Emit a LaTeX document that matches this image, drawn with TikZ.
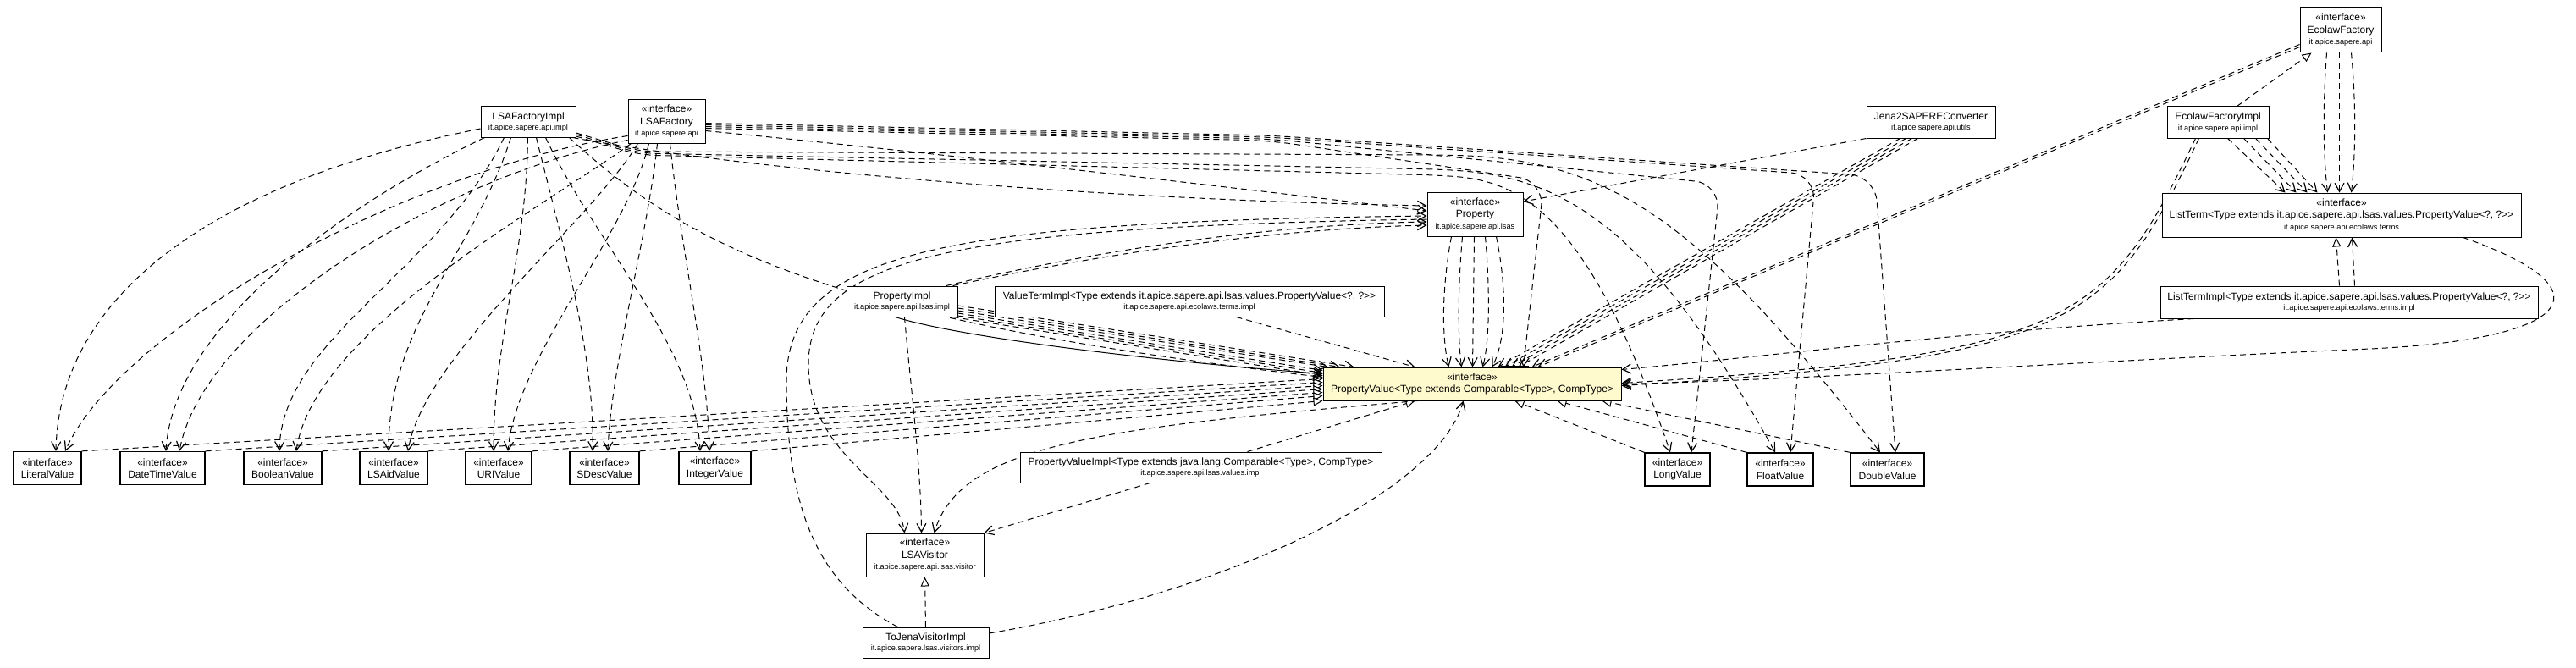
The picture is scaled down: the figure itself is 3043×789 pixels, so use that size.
\documentclass[tikz,border=0pt]{standalone}
\usepackage{fontspec}
\setmainfont{Liberation Sans}
\usetikzlibrary{arrows.meta,calc}
\pgfdeclarelayer{bgzero}
\pgfdeclarelayer{edges}
\pgfsetlayers{bgzero,edges,main}
\definecolor{pvfill}{RGB}{255,250,205}
\newcommand{\pkgname}[1]{{\fontsize{9.2}{11}\selectfont #1}}
\newcommand{\ster}{«interface»}
\begin{document}
\begin{tikzpicture}[x=1pt,y=-1pt,
  cls/.style={draw=black, line width=1pt, fill=white, align=center, inner sep=0pt, font=\fontsize{12}{14.5}\selectfont},
  vcls/.style={cls, line width=1.3pt, minimum height=39},
  dep/.style={line width=1pt, dash pattern=on 7pt off 5pt, -{Straight Barb[length=10pt,width=11pt,line width=1.2pt]}},
  real/.style={line width=1pt, dash pattern=on 7pt off 5pt, -{Triangle[fill=white,length=11pt,width=10pt,line width=1pt]}},
  assoc/.style={line width=1pt, -{Straight Barb[length=10pt,width=11pt,line width=1.2pt]}}]
\useasboundingbox (0,0) rectangle (3043,789);
\begin{pgfonlayer}{bgzero}
\fill[white] (0,0) rectangle (3043,789);
\end{pgfonlayer}

% ---- nodes
\node[cls, minimum width=112, minimum height=36] (lsafi) at (624,144) {LSAFactoryImpl\\[-2pt]\pkgname{it.apice.sapere.api.impl}};
\node[cls, minimum width=91, minimum height=51] (lsaf) at (787.5,143.5) {\ster\\LSAFactory\\[-1pt]\pkgname{it.apice.sapere.api}};
\node[vcls, minimum width=80] (vlit) at (56,553) {\ster\\LiteralValue};
\node[vcls, minimum width=100] (vdt) at (192,553) {\ster\\DateTimeValue};
\node[vcls, minimum width=92] (vbool) at (334,553) {\ster\\BooleanValue};
\node[vcls, minimum width=80] (vaid) at (465,553) {\ster\\LSAidValue};
\node[vcls, minimum width=78] (vuri) at (589,553) {\ster\\URIValue};
\node[vcls, minimum width=82] (vsd) at (714,553) {\ster\\SDescValue};
\node[vcls, minimum width=85] (vint) at (844.5,553) {\ster\\IntegerValue};
\node[vcls, minimum width=77] (vlong) at (1981.5,554.5) {\ster\\LongValue};
\node[vcls, minimum width=78] (vfloat) at (2103,554.5) {\ster\\FloatValue};
\node[vcls, minimum width=87] (vdouble) at (2229.5,554.5) {\ster\\DoubleValue};
\node[cls, minimum width=113, minimum height=52] (prop) at (1742.5,253) {\ster\\Property\\[-1pt]\pkgname{it.apice.sapere.api.lsas}};
\node[cls, minimum width=131, minimum height=36] (propi) at (1065.5,356) {PropertyImpl\\[-2pt]\pkgname{it.apice.sapere.api.lsas.impl}};
\node[cls, minimum width=460, minimum height=36] (vti) at (1405,356) {ValueTermImpl<Type extends it.apice.sapere.api.lsas.values.PropertyValue<?, ?>\kern0pt>\\[-2pt]\pkgname{it.apice.sapere.api.ecolaws.terms.impl}};
\node[cls, fill=pvfill, minimum width=352, minimum height=39] (pv) at (1739,453.5) {\ster\\PropertyValue<Type extends Comparable<Type>, CompType>};
\node[cls, minimum width=427, minimum height=36] (pvi) at (1418.5,552) {PropertyValueImpl<Type extends java.lang.Comparable<Type>, CompType>\\[-2pt]\pkgname{it.apice.sapere.api.lsas.values.impl}};
\node[cls, minimum width=139, minimum height=51] (vis) at (1092.5,655.5) {\ster\\LSAVisitor\\[-1pt]\pkgname{it.apice.sapere.api.lsas.visitor}};
\node[cls, minimum width=149, minimum height=36] (tjv) at (1093.5,759) {ToJenaVisitorImpl\\[-2pt]\pkgname{it.apice.sapere.lsas.visitors.impl}};
\node[cls, minimum width=96, minimum height=53] (ef) at (2765,35.5) {\ster\\EcolawFactory\\[-1pt]\pkgname{it.apice.sapere.api}};
\node[cls, minimum width=152, minimum height=37] (jena) at (2281,144.5) {Jena2SAPEREConverter\\[-2pt]\pkgname{it.apice.sapere.api.utils}};
\node[cls, minimum width=120, minimum height=37] (efi) at (2620,144.5) {EcolawFactoryImpl\\[-2pt]\pkgname{it.apice.sapere.api.impl}};
\node[cls, minimum width=424, minimum height=52] (lt) at (2766,254) {\ster\\ListTerm<Type extends it.apice.sapere.api.lsas.values.PropertyValue<?, ?>\kern0pt>\\[-1pt]\pkgname{it.apice.sapere.api.ecolaws.terms}};
\node[cls, minimum width=446, minimum height=38] (lti) at (2775,357) {ListTermImpl<Type extends it.apice.sapere.api.lsas.values.PropertyValue<?, ?>\kern0pt>\\[-2pt]\pkgname{it.apice.sapere.api.ecolaws.terms.impl}};

\begin{pgfonlayer}{edges}
% LSAFactoryImpl -> value types
\draw[dep] ($(lsafi.west)+(0,8)$) .. controls (250,215) and (70,350) .. ($(vlit.north)+(10,0)$);
\draw[dep] ($(lsafi.south west)+(5,0)$) .. controls (420,235) and (205,380) .. ($(vdt.north)+(4,0)$);
\draw[dep] ($(lsafi.south west)+(28,0)$) .. controls (520,320) and (332,400) .. ($(vbool.north)+(-4,0)$);
\draw[dep] ($(lsafi.south west)+(36,0)$) .. controls (560,300) and (459,380) .. ($(vaid.north)+(-6,0)$);
\draw[dep] ($(lsafi.south west)+(56,0)$) .. controls (622,300) and (583,400) .. ($(vuri.north)+(-6,0)$);
\draw[dep] ($(lsafi.south west)+(66,0)$) .. controls (665,290) and (703,420) .. ($(vsd.north)+(-14,0)$);
\draw[dep] ($(lsafi.south west)+(77,0)$) .. controls (705,290) and (822,410) .. ($(vint.north)+(-17.5,0)$);
% LSAFactory -> value types
\draw[dep] ($(lsaf.west)+(0,17)$) .. controls (480,200) and (140,390) .. ($(vlit.north)+(21,0)$);
\draw[dep] ($(lsaf.south west)+(0,-4)$) .. controls (520,210) and (240,380) .. ($(vdt.north)+(20,0)$);
\draw[dep] ($(lsaf.south west)+(4,0)$) .. controls (650,240) and (370,390) .. ($(vbool.north)+(16,0)$);
\draw[dep] ($(lsaf.south west)+(12,0)$) .. controls (700,260) and (500,420) .. ($(vaid.north)+(17,0)$);
\draw[dep] ($(lsaf.south west)+(25,0)$) .. controls (740,280) and (610,420) .. ($(vuri.north)+(11,0)$);
\draw[dep] ($(lsaf.south west)+(35,0)$) .. controls (765,280) and (722,430) .. ($(vsd.north)+(4,0)$);
\draw[dep] ($(lsaf.south west)+(50,0)$) .. controls (805,300) and (836,430) .. ($(vint.north)+(-6.5,0)$);
% value types -> PropertyValue
\draw[real] (vlit.north east) -- ($(pv.west)+(0,-6)$);
\draw[real] (vdt.north east) -- ($(pv.west)+(0,-2)$);
\draw[real] (vbool.north east) -- ($(pv.west)+(0,2)$);
\draw[real] (vaid.north east) -- ($(pv.west)+(0,6)$);
\draw[real] (vuri.north east) -- ($(pv.west)+(0,10)$);
\draw[real] (vsd.north east) -- ($(pv.west)+(0,14)$);
\draw[real] (vint.north east) -- (pv.south west);
\draw[real] (vlong.north west) -- ($(pv.south west)+(227,0)$);
\draw[real] (vfloat.north west) -- ($(pv.south west)+(277,0)$);
\draw[real] (vdouble.north west) -- ($(pv.south west)+(330,0)$);
\draw[real] ($(pvi.north west)+(269,0)$) -- ($(pv.south west)+(109,0)$);
% visitor
\draw[dep] ($(pvi.south west)+(154,0)$) -- (vis.north east);
\draw[real] (tjv.north) -- (vis.south);
\draw[dep] ($(tjv.east)+(0,-11)$) .. controls (1450,700) and (1700,580) .. ($(pv.south west)+(166,0)$);
\draw[dep] ($(tjv.north west)+(42,0)$) .. controls (965,690) and (929,600) .. (929,450) .. controls (929,295) and (1120,262) .. ($(prop.west)+(0,2)$);
\draw[dep] ($(prop.west)+(0,6)$) .. controls (1120,268) and (955,305) .. (955,430) .. controls (955,540) and (1062,570) .. ($(vis.north west)+(46,0)$);
\draw[dep] ($(propi.south west)+(69,0)$) .. controls (1075,450) and (1088,550) .. ($(vis.north west)+(66,0)$);
\draw[dep] ($(pv.south west)+(112,0)$) .. controls (1300,505) and (1135,525) .. ($(vis.north west)+(81,0)$);
% PropertyImpl
\draw[dep] ($(propi.north east)+(-14,0)$) .. controls (1300,295) and (1500,265) .. ($(prop.west)+(0,9)$);
\draw[dep] ($(propi.north east)+(-6,0)$) .. controls (1310,298) and (1510,270) .. ($(prop.west)+(0,13)$);
\draw[dep] ($(propi.east)+(0,5)$) -- ($(pv.north west)+(37,0)$);
\draw[dep] ($(propi.east)+(0,8)$) -- ($(pv.north west)+(20,0)$);
\draw[dep] ($(propi.east)+(0,11)$) -- ($(pv.north west)+(6,0)$);
\draw[dep] ($(propi.east)+(0,14)$) -- ($(pv.west)+(0,-16)$);
\draw[dep] ($(propi.east)+(0,17)$) -- ($(pv.west)+(0,-13)$);
\draw[dep] ($(propi.south east)+(-6,0)$) -- ($(pv.west)+(0,-10)$);
\draw[assoc] ($(propi.south west)+(58,0)$) .. controls (1140,400) and (1380,428) .. ($(pv.west)+(0,-12)$);
\draw[dep] ($(lsafi.south east)+(-8,0)$) .. controls (820,300) and (1000,380) .. ($(pv.west)+(0,-8)$);
\draw[dep] ($(vti.south west)+(286,0)$) -- ($(pv.north west)+(109,0)$);
% Property -> PropertyValue
\draw[dep] ($(prop.south west)+(29,0)$) .. controls (1703,340) and (1703,400) .. ($(pv.north west)+(149,0)$);
\draw[dep] ($(prop.south west)+(42,0)$) .. controls (1722,340) and (1722,400) .. ($(pv.north west)+(164,0)$);
\draw[dep] ($(prop.south west)+(56,0)$) -- ($(pv.north west)+(177,0)$);
\draw[dep] ($(prop.south west)+(69,0)$) .. controls (1760,340) and (1760,400) .. ($(pv.north west)+(189,0)$);
\draw[dep] ($(prop.south west)+(82,0)$) .. controls (1780,340) and (1780,400) .. ($(pv.north west)+(200,0)$);
% Ecolaw part
\draw[dep] ($(ef.west)+(0,17)$) -- ($(pv.north west)+(247,0)$);
\draw[dep] ($(ef.west)+(0,20)$) -- ($(pv.north west)+(254,0)$);
\draw[real] ($(efi.north west)+(83,0)$) -- ($(ef.south west)+(14,0)$);
\draw[dep] ($(efi.south west)+(72,0)$) -- ($(lt.north west)+(146,0)$);
\draw[dep] ($(efi.south west)+(91,0)$) -- ($(lt.north west)+(159,0)$);
\draw[dep] ($(efi.south west)+(105,0)$) -- ($(lt.north west)+(172,0)$);
\draw[dep] ($(efi.south west)+(119,0)$) -- ($(lt.north west)+(184,0)$);
\draw[dep] ($(ef.south west)+(32,0)$) .. controls (2744,120) and (2744,180) .. ($(lt.north west)+(196,0)$);
\draw[dep] ($(ef.south west)+(47,0)$) -- ($(lt.north west)+(210,0)$);
\draw[dep] ($(ef.south west)+(61,0)$) .. controls (2783,120) and (2783,180) .. ($(lt.north west)+(224,0)$);
\draw[real] ($(lti.north west)+(212,0)$) -- ($(lt.south west)+(206,0)$);
\draw[dep] ($(lti.north west)+(230,0)$) -- ($(lt.south west)+(225,0)$);
\draw[dep] ($(efi.south west)+(34,0)$) .. controls (2490,380) and (2450,420) .. ($(pv.east)+(0,-1)$);
\draw[dep] ($(efi.south west)+(38,0)$) .. controls (2494,383) and (2454,423) .. ($(pv.east)+(0,2)$);
\draw[dep] ($(lti.south west)+(40,0)$) .. controls (2300,393) and (2100,420) .. ($(pv.east)+(0,-17)$);
\draw[dep] ($(lt.south east)+(-69,0)$) .. controls (3080,340) and (3050,400) .. (2800,412) .. controls (2500,425) and (2100,450) .. ($(pv.east)+(0,0)$);
% Jena
\draw[dep] (jena.south west) -- ($(prop.east)+(0,-15)$);
\draw[dep] ($(jena.south west)+(40,0)$) -- ($(pv.north west)+(207,0)$);
\draw[dep] ($(jena.south west)+(47,0)$) -- ($(pv.north west)+(215,0)$);
\draw[dep] ($(jena.south west)+(54,0)$) -- ($(pv.north west)+(223,0)$);
\draw[dep] ($(jena.south west)+(61,0)$) -- ($(pv.north west)+(231,0)$);
% LSAFactory upper stream
\draw[dep, rounded corners=30pt] ($(lsaf.east)+(0,2)$) -- (1500,160) -- (2215,208) -- ($(vdouble.north)+(9.5,0)$);
\draw[dep, rounded corners=30pt] ($(lsaf.east)+(0,4)$) -- (1500,162) -- (2145,206) -- ($(vfloat.north)+(12,0)$);
\draw[dep, rounded corners=30pt] ($(lsaf.east)+(0,6)$) -- (1500,164) -- (2032,217) -- ($(vlong.north)+(16.5,0)$);
\draw[dep, rounded corners=30pt] ($(lsaf.east)+(0,8)$) -- (1500,166) -- (1824,214) -- ($(pv.north west)+(237,0)$);
\draw[dep] ($(lsaf.east)+(0,11)$) .. controls (1100,180) and (1400,215) .. ($(prop.west)+(0,-4)$);
% LSAFactoryImpl lower stream
\draw[dep] ($(lsafi.south east)+(-4,0)$) .. controls (850,195) and (1250,235) .. ($(prop.west)+(0,-10)$);
\draw[dep, rounded corners=20pt] ($(lsafi.east)+(0,13)$) -- (755,179) -- (1700,183) .. controls (1900,188) and (2010,260) .. ($(vdouble.north)+(-8.5,0)$);
\draw[dep, rounded corners=20pt] ($(lsafi.east)+(0,15)$) -- (755,181) -- (1700,200) .. controls (1850,210) and (1950,270) .. ($(vfloat.north)+(-6,0)$);
\draw[dep, rounded corners=20pt] ($(lsafi.east)+(0,17)$) -- (755,183) -- (1700,207) .. controls (1800,215) and (1880,260) .. ($(vlong.north)+(-8.5,0)$);
\end{pgfonlayer}
\end{tikzpicture}
\end{document}
